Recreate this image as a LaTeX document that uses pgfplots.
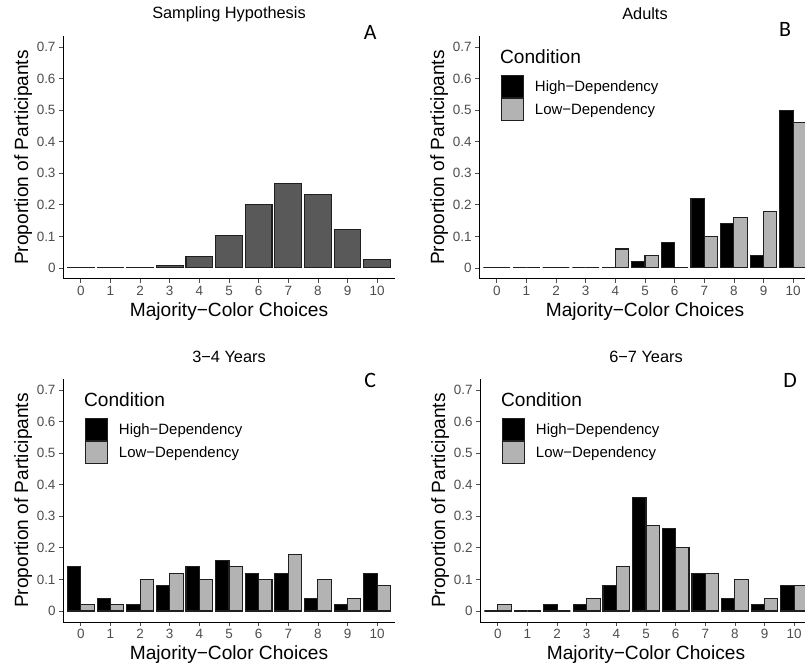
\documentclass[border=0pt]{standalone}
\usepackage{fontspec}
\setmainfont{Liberation Sans}
\newfontfamily\letterfont{Carlito}
\usepackage{pgfplots}
\pgfplotsset{compat=1.18}
\definecolor{darkbar}{HTML}{595959}
\definecolor{lowgray}{HTML}{B3B3B3}
\definecolor{tickgray}{HTML}{4D4D4D}
\definecolor{edge}{HTML}{1F1F1F}
\pgfplotsset{
  panel/.style={
    width=332bp, height=243bp, scale only axis, clip=false,
    xmin=-0.6, xmax=10.6, ymin=-0.035, ymax=0.735,
    axis x line*=bottom, axis y line*=left,
    axis line style={black, line width=1bp, -},
    xtick={0,1,2,3,4,5,6,7,8,9,10},
    ytick={0,0.1,0.2,0.3,0.4,0.5,0.6,0.7},
    tick align=outside, major tick length=4bp,
    tick style={tickgray, line width=0.8bp},
    tick label style={font=\fontsize{13.5}{14}\selectfont, text=tickgray},
    /pgf/number format/assume math mode=true,
    yticklabel style={/pgf/number format/fixed, /pgf/number format/precision=1},
    xlabel={Majority−Color Choices},
    ylabel={Proportion of Participants},
    label style={font=\fontsize{19.2}{20}\selectfont},
    xlabel style={at={(axis description cs:0.5,-0.136)}, anchor=center},
    ylabel style={at={(axis description cs:-0.12,0.5)}, anchor=center},
    title style={at={(axis description cs:0.5,1.066)}, anchor=center, font=\fontsize{16.4}{17}\selectfont},
    ybar=0pt,
    legend style={at={(axis description cs:0.065,0.840)}, anchor=north west,
      draw=none, fill=none, inner sep=0pt, row sep=0pt, column sep=9bp,
      font=\fontsize{15}{16}\selectfont, cells={anchor=west}},
  },
  legbox/.style={legend image code/.code={\draw[##1, draw=edge, line width=1.2bp] (0bp,-11bp) rectangle (22bp,11bp);}},
  hi/.style={fill=black, draw=edge, line width=1.1bp, legbox},
  lo/.style={fill=lowgray, draw=edge, line width=1.1bp, legbox},
}
\newcommand{\condtitle}{\node[anchor=west, font=\fontsize{19.2}{20}\selectfont, inner sep=0pt] at (axis description cs:0.063,0.914) {Condition};}
\begin{document}
\begin{tikzpicture}
\useasboundingbox (0,0) rectangle (805bp,664bp);
\clip (0,0) rectangle (805bp,664bp);

% Panel A
\begin{axis}[panel, at={(63bp,385bp)}, anchor=south west, title={Sampling Hypothesis}, bar width=0.9]
\addplot[fill=darkbar, draw=edge, line width=1.1bp] coordinates {
(0,0.0000059) (1,0.000138) (2,0.00145) (3,0.009) (4,0.0368) (5,0.1029)
(6,0.2001) (7,0.2668) (8,0.2335) (9,0.1211) (10,0.0282)};
\node[font=\letterfont\fontsize{22}{24}\selectfont] at (axis description cs:0.925,1.016) {A};
\end{axis}

% Panel B
\begin{axis}[panel, at={(479bp,385bp)}, anchor=south west, title={Adults}, bar width=0.45]
\addplot[hi] coordinates {
(0,0) (1,0) (2,0) (3,0) (4,0) (5,0.02) (6,0.08) (7,0.22) (8,0.14) (9,0.04) (10,0.50)};
\addlegendentry{High−Dependency}
\addplot[lo] coordinates {
(0,0) (1,0) (2,0) (3,0) (4,0.06) (5,0.04) (6,0) (7,0.10) (8,0.16) (9,0.18) (10,0.46)};
\addlegendentry{Low−Dependency}
\condtitle
\node[font=\letterfont\fontsize{22}{24}\selectfont] at (axis description cs:0.922,1.025) {B};
\end{axis}

% Panel C
\begin{axis}[panel, at={(63bp,42bp)}, anchor=south west, title={3−4 Years}, bar width=0.45]
\addplot[hi] coordinates {
(0,0.14) (1,0.04) (2,0.02) (3,0.08) (4,0.14) (5,0.16) (6,0.12) (7,0.12) (8,0.04) (9,0.02) (10,0.12)};
\addlegendentry{High−Dependency}
\addplot[lo] coordinates {
(0,0.02) (1,0.02) (2,0.10) (3,0.12) (4,0.10) (5,0.14) (6,0.10) (7,0.18) (8,0.10) (9,0.04) (10,0.08)};
\addlegendentry{Low−Dependency}
\condtitle
\node[font=\letterfont\fontsize{22}{24}\selectfont] at (axis description cs:0.925,0.996) {C};
\end{axis}

% Panel D
\begin{axis}[panel, at={(480bp,42bp)}, anchor=south west, title={6−7 Years}, bar width=0.45]
\addplot[hi] coordinates {
(0,0) (1,0) (2,0.02) (3,0.02) (4,0.08) (5,0.36) (6,0.26) (7,0.12) (8,0.04) (9,0.02) (10,0.08)};
\addlegendentry{High−Dependency}
\addplot[lo] coordinates {
(0,0.02) (1,0) (2,0) (3,0.04) (4,0.14) (5,0.27) (6,0.20) (7,0.12) (8,0.10) (9,0.04) (10,0.08)};
\addlegendentry{Low−Dependency}
\condtitle
\node[font=\letterfont\fontsize{22}{24}\selectfont] at (axis description cs:0.934,0.996) {D};
\end{axis}
\end{tikzpicture}
\end{document}
